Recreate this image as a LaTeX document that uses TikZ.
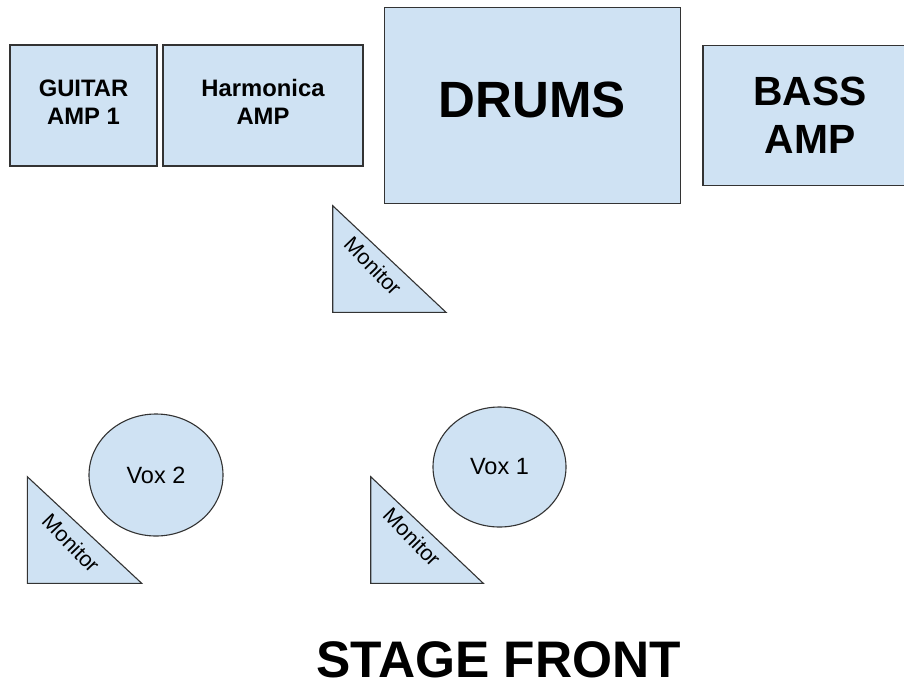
\documentclass[tikz,border=0pt]{standalone}
\usepackage{fontspec}
\setmainfont{Liberation Sans}
\usetikzlibrary{shapes.geometric}
\definecolor{boxfill}{HTML}{CFE2F3}
\definecolor{boxline}{HTML}{333333}
\tikzset{
  ampbox/.style={draw=boxline, fill=boxfill, line width=1.1pt, inner sep=0pt, rectangle},
  voxshape/.style={draw=boxline, fill=boxfill, line width=1.1pt, inner sep=0pt, ellipse},
  monshape/.style={draw=boxline, fill=boxfill, line width=1.1pt, line join=miter},
  boldlbl/.style={font=\bfseries, align=center, inner sep=0pt},
  monlbl/.style={inner sep=0pt, rotate=-46, font=\fontsize{21.5}{24}\selectfont},
  voxlbl/.style={inner sep=0pt, font=\fontsize{23.5}{26}\selectfont}
}
\begin{document}
\begin{tikzpicture}[x=1pt,y=-1pt]
\useasboundingbox (0,0) rectangle (904,688);
\begin{scope}
\clip (0,0) rectangle (904,688);
% amps and drums
\node[ampbox, minimum width=147pt, minimum height=121pt] (guitar) at (83.5,105.5) {};
\node[ampbox, minimum width=200pt, minimum height=121pt] (harp) at (263,105.5) {};
\node[ampbox, minimum width=295.5pt, minimum height=196pt] (drums) at (532.3,105.5) {};
\node[ampbox, minimum width=214pt, minimum height=140.5pt] (bass) at (810,115.3) {};
\end{scope}
\node[boldlbl, font=\bfseries\fontsize{23.8}{28.5}\selectfont] (guitarT) at (83.5,102) {GUITAR\\AMP 1};
\node[boldlbl, font=\bfseries\fontsize{23.8}{28.5}\selectfont] (harpT) at (263,102) {Harmonica\\AMP};
\node[boldlbl, font=\bfseries\fontsize{51}{60}\selectfont] (drumsT) at (532.3,99.5) {DRUMS};
\node[boldlbl, font=\bfseries\fontsize{40.8}{48}\selectfont] (bassT) at (810,115) {BASS\\AMP};
% monitors
\coordinate (m1a) at (332.7,205.7);
\coordinate (m1b) at (332.7,312.3);
\coordinate (m1c) at (446,312.3);
\draw[monshape] (m1a) -- (m1b) -- (m1c) -- cycle;
\node[monlbl] (m1T) at (373,266) {Monitor};
\coordinate (m2a) at (27.3,476.7);
\coordinate (m2b) at (27.3,583.3);
\coordinate (m2c) at (141.7,583.3);
\draw[monshape] (m2a) -- (m2b) -- (m2c) -- cycle;
\node[monlbl] (m2T) at (71,543) {Monitor};
\coordinate (m3a) at (370.7,476.7);
\coordinate (m3b) at (370.7,583.3);
\coordinate (m3c) at (483.3,583.3);
\draw[monshape] (m3a) -- (m3b) -- (m3c) -- cycle;
\node[monlbl] (m3T) at (412,537) {Monitor};
% vocals
\node[voxshape, minimum width=134pt, minimum height=122pt, voxlbl] (vox2) at (156,475) {Vox 2};
\node[voxshape, minimum width=133pt, minimum height=120pt, voxlbl] (vox1) at (499.5,467) {Vox 1};
% stage front
\node[boldlbl, font=\bfseries\fontsize{51.4}{58}\selectfont, anchor=base] (front) at (498.5,677) {STAGE FRONT};
\end{tikzpicture}
\end{document}
